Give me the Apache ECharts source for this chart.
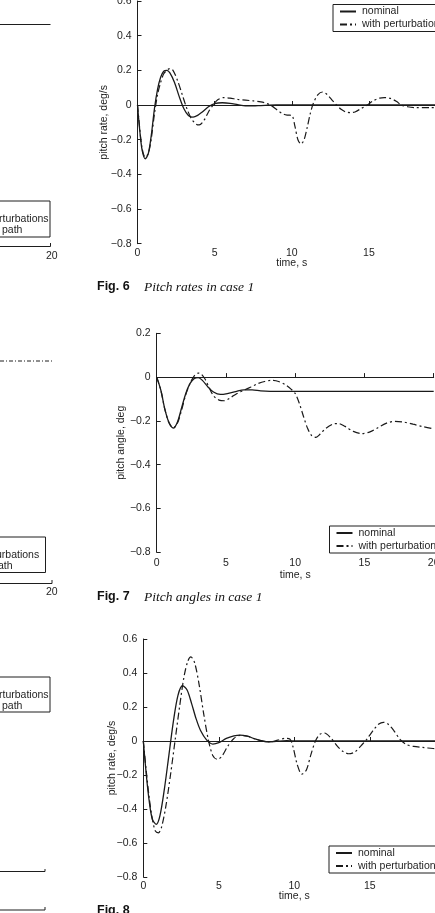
<!DOCTYPE html>
<html>
<head>
<meta charset="utf-8">
<script src="https://cdn.jsdelivr.net/npm/echarts@6/dist/echarts.min.js"></script>
<style>
html,body{margin:0;padding:0;background:#fff;}
#c{width:435px;height:913px;}
</style>
</head>
<body>
<div id="c"></div>
<script>
// ---------- DATA ----------
// Fig. 6  Pitch rates in case 1 (deg/s)
var f6NomT = [0,0.15,0.3,0.5,0.7,0.9,1.1,1.3,1.5,1.7,1.9,2.1,2.4,2.7,3.0,3.3,3.6,3.9,4.2,4.6,5.0,5.5,6.0,6.5,7.0,7.5,8.0,9.0,20];
var f6NomV = [0,-0.15,-0.26,-0.31,-0.28,-0.17,-0.02,0.09,0.16,0.195,0.2,0.185,0.13,0.05,-0.02,-0.06,-0.07,-0.06,-0.04,-0.01,0.008,0.013,0.01,0.002,-0.005,-0.005,-0.003,0,0];
var f6PerT = [0,0.15,0.3,0.5,0.7,0.9,1.1,1.3,1.5,1.7,1.9,2.1,2.3,2.6,2.9,3.2,3.5,3.8,4.0,4.3,4.6,4.9,5.2,5.6,6.0,6.5,7.0,7.5,8.0,8.4,8.7,9.0,9.4,9.7,10.0,10.2,10.4,10.6,10.8,11.0,11.2,11.4,11.7,12.0,12.3,12.6,12.9,13.2,13.5,13.8,14.1,14.5,14.9,15.3,15.7,16.0,16.4,16.8,17.1,17.5,18.0,19.0,20.0];
var f6PerV = [0,-0.14,-0.25,-0.3,-0.28,-0.19,-0.05,0.06,0.13,0.18,0.2,0.21,0.2,0.14,0.06,-0.02,-0.08,-0.11,-0.115,-0.09,-0.04,0.0,0.03,0.043,0.04,0.032,0.028,0.024,0.018,0.008,-0.005,-0.025,-0.05,-0.058,-0.06,-0.12,-0.2,-0.225,-0.2,-0.13,-0.05,0.01,0.06,0.075,0.06,0.03,0.0,-0.025,-0.04,-0.044,-0.04,-0.02,0.0,0.025,0.04,0.043,0.038,0.02,0.0,-0.01,-0.015,-0.015,-0.018];

// Fig. 7  Pitch angles in case 1 (deg)
var f7NomT = [0,0.3,0.6,0.9,1.2,1.5,1.8,2.1,2.4,2.7,3.0,3.3,3.7,4.1,4.6,5.1,5.7,6.3,6.9,7.5,8.2,20];
var f7NomV = [0,-0.06,-0.15,-0.21,-0.233,-0.205,-0.14,-0.075,-0.03,-0.007,-0.002,-0.015,-0.045,-0.068,-0.079,-0.075,-0.066,-0.058,-0.058,-0.063,-0.065,-0.065];
var f7PerT = [0,0.3,0.6,0.9,1.2,1.5,1.8,2.1,2.4,2.7,3.0,3.2,3.5,3.8,4.1,4.5,4.9,5.3,5.8,6.3,6.8,7.3,7.8,8.3,8.8,9.3,9.7,10.0,10.3,10.6,10.9,11.2,11.5,11.8,12.2,12.7,13.1,13.6,14.2,14.8,15.4,16.0,16.6,17.2,17.8,18.5,19.2,20.0];
var f7PerV = [0,-0.06,-0.15,-0.21,-0.232,-0.21,-0.15,-0.08,-0.03,0.005,0.018,0.015,-0.01,-0.05,-0.085,-0.105,-0.108,-0.095,-0.075,-0.06,-0.045,-0.03,-0.02,-0.015,-0.02,-0.035,-0.055,-0.075,-0.12,-0.18,-0.235,-0.268,-0.275,-0.26,-0.235,-0.215,-0.212,-0.225,-0.248,-0.258,-0.25,-0.23,-0.21,-0.202,-0.205,-0.215,-0.226,-0.236];

// Fig. 8  Pitch rates (deg/s)
var f8NomT = [0,0.2,0.4,0.6,0.85,1.1,1.4,1.7,2.0,2.3,2.6,2.9,3.2,3.5,3.8,4.2,4.6,5.0,5.5,6.0,6.4,6.9,7.4,7.9,8.3,8.8,9.5,10,20];
var f8NomV = [0,-0.2,-0.36,-0.46,-0.49,-0.44,-0.28,-0.08,0.12,0.27,0.325,0.3,0.22,0.13,0.06,0.005,-0.018,-0.01,0.015,0.03,0.035,0.028,0.012,0.0,-0.005,-0.002,0.002,0,0];
var f8PerT = [0,0.2,0.4,0.6,0.8,1.0,1.2,1.5,1.8,2.1,2.4,2.7,2.95,3.15,3.4,3.7,4.0,4.3,4.6,4.9,5.2,5.6,6.0,6.4,6.9,7.4,7.9,8.4,8.9,9.4,9.7,9.9,10.2,10.5,10.8,11.1,11.4,11.7,12.0,12.4,12.8,13.2,13.6,14.0,14.4,14.8,15.2,15.6,15.9,16.2,16.6,17.0,17.4,17.9,18.5,19.2,20];
var f8PerV = [0,-0.18,-0.34,-0.46,-0.53,-0.54,-0.51,-0.38,-0.2,0.0,0.2,0.38,0.47,0.495,0.46,0.33,0.16,0.01,-0.085,-0.108,-0.09,-0.03,0.015,0.033,0.028,0.012,0.0,-0.005,0.005,0.016,0.012,-0.03,-0.14,-0.195,-0.17,-0.08,0.0,0.04,0.047,0.02,-0.025,-0.06,-0.075,-0.065,-0.03,0.01,0.06,0.1,0.11,0.1,0.06,0.01,-0.02,-0.032,-0.038,-0.044,-0.05];

var timeTicks = [0,5,10,15,20];
var legendNames = ['nominal','with perturbations'];

// ---------- HELPERS ----------
function zip(t,v){ return t.map(function(x,i){ return [x, v[i]]; }); }
var INK = '#1e1e1e';
var FONT = '"Liberation Sans", Arial, Helvetica, sans-serif';
function fmtY(v){ if (Math.abs(v) < 1e-9) return '0'; return (v<0?'\u2212':'') + Math.abs(v).toFixed(1); }

function xAx(gi, gap, margin){
  return {
    type:'value', gridIndex:gi, min:timeTicks[0], max:timeTicks[timeTicks.length-1], interval:timeTicks[1]-timeTicks[0],
    name:'time, s', nameLocation:'middle', nameGap:gap, nameMoveOverlap:false,
    nameTextStyle:{color:INK, fontSize:10.5, fontFamily:FONT},
    axisLine:{show:true, lineStyle:{color:INK, width:1}},
    axisTick:{show:true, inside:true, length:4, lineStyle:{color:INK}},
    axisLabel:{color:INK, fontSize:10.5, fontFamily:FONT, margin:margin, showMinLabel:true, showMaxLabel:true, hideOverlap:false},
    splitLine:{show:false}
  };
}
function yAx(gi, min, max, name, gap){
  return {
    type:'value', gridIndex:gi, min:min, max:max, interval:0.2,
    name:name, nameLocation:'middle', nameGap:gap, nameRotate:90, nameMoveOverlap:false,
    nameTextStyle:{color:INK, fontSize:10.5, fontFamily:FONT},
    axisLine:{show:true, lineStyle:{color:INK, width:1}},
    axisTick:{show:true, inside:true, length:4, lineStyle:{color:INK}},
    axisLabel:{color:INK, fontSize:10.5, fontFamily:FONT, margin:6, formatter:fmtY, showMinLabel:true, showMaxLabel:true},
    splitLine:{show:false}
  };
}
function nom(i, data){
  return {name:'nominal', type:'line', xAxisIndex:i, yAxisIndex:i, data:data, symbol:'none', smooth:0.3,
    lineStyle:{color:'#1a1a1a', width:1.3, type:'solid'}, itemStyle:{color:'#1a1a1a'}, animation:false};
}
function per(i, data){
  return {name:'with perturbations', type:'line', xAxisIndex:i, yAxisIndex:i, data:data, symbol:'none', smooth:0.3,
    lineStyle:{color:'#1a1a1a', width:1.2, type:[7,3,2,3]}, itemStyle:{color:'#1a1a1a'}, animation:false};
}
function leg(left, top){
  return {
    data:legendNames, left:left, top:top, orient:'vertical',
    itemWidth:16, itemHeight:9, itemGap:2, padding:[1.5,6,1.5,6],
    borderColor:INK, borderWidth:1, backgroundColor:'#fff',
    itemStyle:{opacity:0},
    textStyle:{color:INK, fontSize:10.5, fontFamily:FONT, padding:[0,0,0,1]},
    selectedMode:false
  };
}

var chart = echarts.init(document.getElementById('c'), null, {renderer:'canvas'});

var graphics = [];
function seg(x1,y1,x2,y2,dash){
  graphics.push({type:'line', silent:true, shape:{x1:x1,y1:y1,x2:x2,y2:y2},
    style:{stroke:INK, lineWidth:1, lineDash:dash||null}});
}
function box(x,y,w,h){
  graphics.push({type:'rect', silent:true, shape:{x:x,y:y,width:w,height:h},
    style:{fill:'none', stroke:INK, lineWidth:1}});
}
// captions
function caption(y, fig, title){
  graphics.push({type:'text', silent:true, x:97, y:y, style:{text:fig, fill:'#111', font:'bold 12.5px ' + FONT, textVerticalAlign:'middle'}});
  if (title) graphics.push({type:'text', silent:true, x:144, y:y, style:{text:title, fill:'#111', font:'italic 13.5px "Liberation Serif", "Times New Roman", serif', textVerticalAlign:'middle'}});
}
caption(287, 'Fig. 6', 'Pitch rates in case 1');
caption(597, 'Fig. 7', 'Pitch angles in case 1');
caption(911, 'Fig. 8', null);

// left-column fragments of neighbouring figures
function fragText(x,y,s){ graphics.push({type:'text', silent:true, x:x, y:y, style:{text:s, fill:INK, font:'10.5px ' + FONT, textVerticalAlign:'middle'}}); }
seg(0,24.5,50.5,24.5);
box(-10,201,60,36); fragText(-3,206,'l'); fragText(-1,219,'rturbations'); fragText(2,230,'path');
seg(0,246.5,50.5,246.5); seg(50.5,246.5,50.5,243);
fragText(46,256,'20');
seg(0,361,52,361,[4,2,1,2]);
box(-10,537,55.5,35.5); fragText(-4,555,'urbations'); fragText(-2,566,'ath');
seg(0,583.5,52,583.5); seg(52,583.5,52,580);
fragText(46,592,'20');
box(-10,677,60,35); fragText(-3,681,'l'); fragText(-1,695,'rturbations'); fragText(2,706,'path');
seg(0,871.5,45,871.5); seg(45,871.5,45,869);
seg(0,910,45,910); seg(45,910,45,907);

var option = {
  backgroundColor:'#fff',
  animation:false,
  textStyle:{fontFamily:FONT},
  grid:[
    {left:137.5, top:1, width:308.5, height:242.7, containLabel:false, outerBoundsMode:'none'},
    {left:156.7, top:333.3, width:277, height:219, containLabel:false, outerBoundsMode:'none'},
    {left:143.3, top:639, width:302, height:238, containLabel:false, outerBoundsMode:'none'}
  ],
  xAxis:[xAx(0, 14, 4), xAx(1, 17, 5), xAx(2, 14, 4)],
  yAxis:[
    yAx(0, -0.8, 0.6, 'pitch rate, deg/s', 28),
    yAx(1, -0.8, 0.2, 'pitch angle, deg', 30),
    yAx(2, -0.8, 0.6, 'pitch rate, deg/s', 26)
  ],
  legend:[leg(333, 4.5), leg(329.5, 526), leg(329, 846)],
  series:[
    nom(0, zip(f6NomT, f6NomV)), per(0, zip(f6PerT, f6PerV)),
    nom(1, zip(f7NomT, f7NomV)), per(1, zip(f7PerT, f7PerV)),
    nom(2, zip(f8NomT, f8NomV)), per(2, zip(f8PerT, f8PerV))
  ],
  graphic:graphics
};
chart.setOption(option);
</script>
</body>
</html>
